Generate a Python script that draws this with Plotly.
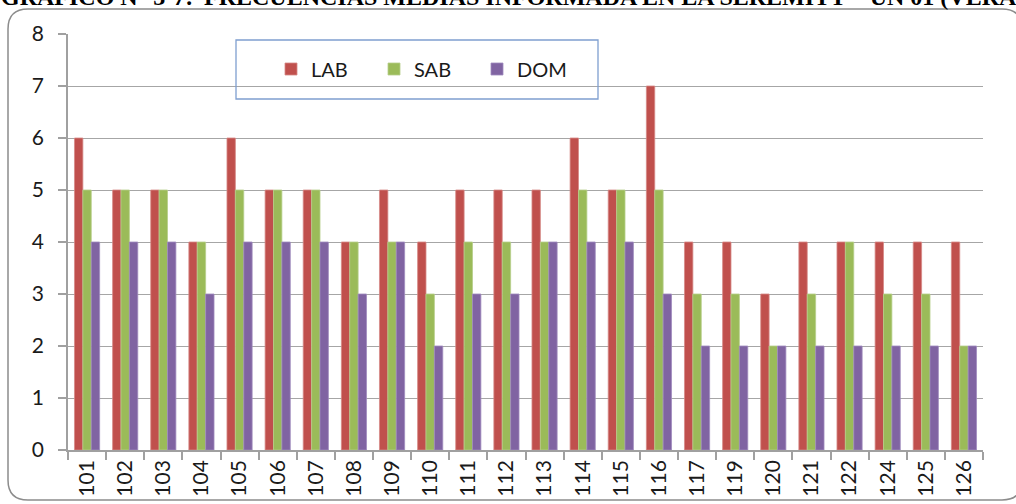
import plotly.graph_objects as go

categories = ["101","102","103","104","105","106","107","108","109","110","111","112",
              "113","114","115","116","117","119","120","121","122","124","125","126"]
lab = [6,5,5,4,6,5,5,4,5,4,5,5,5,6,5,7,4,4,3,4,4,4,4,4]
sab = [5,5,5,4,5,5,5,4,4,3,4,4,4,5,5,5,3,3,2,3,4,3,3,2]
dom = [4,4,4,3,4,4,4,3,4,2,3,3,4,4,4,3,2,2,2,2,2,2,2,2]
series_names = ["LAB", "SAB", "DOM"]
title_head = "GRAFICO N° 3-7:"
title_tail = "FRECUENCIAS MEDIAS INFORMADA EN LA SEREMITT – UN 01 (VERANO)"

W_PX, H_PX = 1016, 504
L, R, T, B = 68, 983, 34, 450
PW, PH = R - L, B - T

def xp(px):
    return (px - L) / PW

def yp(py):
    return (B - py) / PH

colors = ["#C0504D", "#9BBB59", "#8064A2"]
edges = ["#D58986", "#B6CE8A", "#A08BBE"]

fig = go.Figure()
for name, vals, c, e in zip(series_names, [lab, sab, dom], colors, edges):
    fig.add_trace(go.Bar(x=categories, y=vals, name=name,
                         marker=dict(color=c, line=dict(color=e, width=0.8))))

# rounded outer border
x0, y0, x1, y1, r = 8, 9, 1022, 500, 20
path = (f"M {xp(x0+r)},{yp(y0)} L {xp(x1-r)},{yp(y0)} "
        f"Q {xp(x1)},{yp(y0)} {xp(x1)},{yp(y0+r)} L {xp(x1)},{yp(y1-r)} "
        f"Q {xp(x1)},{yp(y1)} {xp(x1-r)},{yp(y1)} L {xp(x0+r)},{yp(y1)} "
        f"Q {xp(x0)},{yp(y1)} {xp(x0)},{yp(y1-r)} L {xp(x0)},{yp(y0+r)} "
        f"Q {xp(x0)},{yp(y0)} {xp(x0+r)},{yp(y0)} Z")
shapes = [
    dict(type="path", xref="paper", yref="paper", path=path,
         line=dict(color="#8C8C8C", width=1.5), layer="below"),
    dict(type="rect", xref="paper", yref="paper",
         x0=xp(236), x1=xp(598), y0=yp(99), y1=yp(40),
         line=dict(color="#7F9FD0", width=1.3), fillcolor="rgba(0,0,0,0)"),
]

title_font = dict(family="Liberation Serif, Times New Roman, serif", size=24, color="black")

fig.update_layout(
    width=W_PX, height=H_PX,
    margin=dict(l=L, r=W_PX - R, t=T, b=H_PX - B, autoexpand=False),
    paper_bgcolor="white", plot_bgcolor="white",
    barmode="group", bargap=0.34, bargroupgap=0,
    font=dict(family="Lato, Liberation Sans, sans-serif", color="#1A1A1A"),
    shapes=shapes,
    showlegend=True,
    legend=dict(orientation="h", x=xp(271), xanchor="left", y=yp(69), yanchor="middle",
                bgcolor="rgba(0,0,0,0)", borderwidth=0,
                font=dict(size=20, family="Lato, sans-serif", color="#1A1A1A"),
                entrywidth=58, entrywidthmode="pixels", traceorder="normal"),
    annotations=[
        dict(text=f"<b>{title_head}</b>", xref="paper", yref="paper",
             x=xp(195), y=yp(-3), xanchor="right", yanchor="middle",
             showarrow=False, font=title_font),
        dict(text=f"<b>{title_tail}</b>", xref="paper", yref="paper",
             x=xp(202), y=yp(-3), xanchor="left", yanchor="middle",
             showarrow=False, font=title_font),
    ],
)
fig.update_xaxes(type="category", showline=True, linecolor="#A0A0A0", linewidth=1.5,
                 ticks="outside", tickson="boundaries", ticklen=8, tickcolor="#A0A0A0",
                 tickwidth=1.5, tickangle=-90, tickfont=dict(size=21),
                 showgrid=False)
fig.update_yaxes(range=[0, 8], dtick=1, showline=True, linecolor="#A0A0A0", linewidth=1.5,
                 ticks="outside", ticklen=8, tickcolor="#A0A0A0", tickwidth=1.5,
                 showgrid=True, gridcolor="#A6A6A6", gridwidth=1.3,
                 zeroline=False, tickfont=dict(size=21), ticklabelstandoff=10)

fig.write_html("out.html", config={"displayModeBar": False},
               post_script="document.body.style.margin='0';")
